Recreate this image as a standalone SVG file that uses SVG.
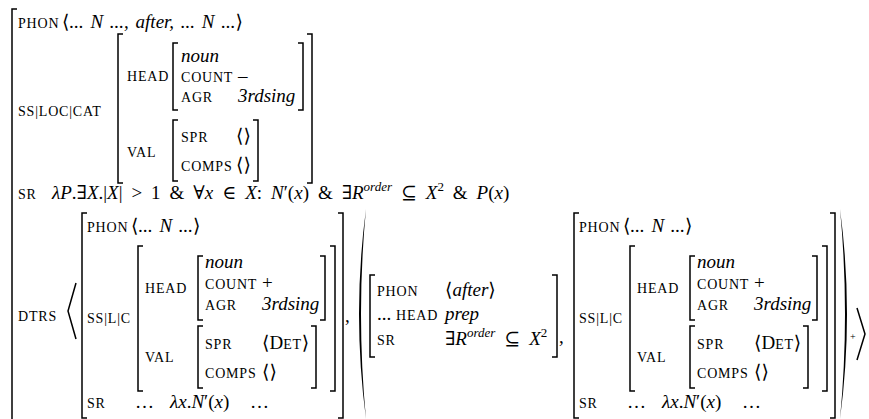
<svg xmlns="http://www.w3.org/2000/svg" width="869" height="419" viewBox="0 0 869 419">
<style>
.t{font-family:"Liberation Serif","DejaVu Serif",serif;font-size:19px;fill:#000}
.sc{font-size:14px;letter-spacing:0.8px}
.i{font-style:italic}
.sup{font-size:13px}
.ws{word-spacing:2px}
.m{word-spacing:4.2px}
.b{fill:none;stroke:#000;stroke-width:1.5}
.d{fill:#000;stroke:none}
</style>
<rect width="869" height="419" fill="#fff"/>
<g id="avm-outer">
<path class="b" d="M17,9 H12 V419"/>
</g>
<g id="top-phon">
<text class="t sc" x="18" y="28">PHON</text>
<text class="t ws" x="62" y="28">⟨<tspan class="i">... N ..., after, ... N ...</tspan>⟩</text>
</g>
<g id="top-cat">
<text class="t sc" x="18" y="116">SS|LOC|CAT</text>
<path class="b" d="M123,34 H118 V183 H123"/>
<path class="b" d="M307,34 H312 V183 H307"/>
<text class="t sc" x="127" y="81">HEAD</text>
<path class="b" d="M178,43 H173 V110 H178"/>
<path class="b" d="M298,43 H303 V110 H298"/>
<text class="t i" x="181" y="62">noun</text>
<text class="t sc" x="181" y="82">COUNT</text>
<text class="t" x="238" y="82">–</text>
<text class="t sc" x="181" y="102">AGR</text>
<text class="t i" x="238" y="102">3rdsing</text>
<text class="t sc" x="127" y="157">VAL</text>
<path class="b" d="M178,120 H173 V181 H178"/>
<path class="b" d="M253,120 H258 V181 H253"/>
<text class="t sc" x="181" y="142">SPR</text>
<text class="t" x="236" y="142">⟨⟩</text>
<text class="t sc" x="181" y="171">COMPS</text>
<text class="t" x="236" y="171">⟨⟩</text>
</g>
<g id="top-sr">
<text class="t sc" x="18" y="199">SR</text>
<text class="t m" x="52" y="199"><tspan class="i">λP</tspan>.∃<tspan class="i">X</tspan>.|<tspan class="i">X</tspan>| &gt; 1 &amp; ∀<tspan class="i">x</tspan> ∈ <tspan class="i">X</tspan>: <tspan class="i">N</tspan>′(<tspan class="i">x</tspan>) &amp; ∃<tspan class="i">R</tspan><tspan class="i sup" dy="-8">order</tspan><tspan dy="8"> ⊆ </tspan><tspan class="i">X</tspan><tspan class="sup" dy="-8">2</tspan><tspan dy="8"> &amp; </tspan><tspan class="i">P</tspan>(<tspan class="i">x</tspan>)</text>
</g>
<g id="dtrs">
<text class="t sc" x="18" y="321">DTRS</text>
<path class="b" d="M76,283 L68,311 L76,339"/>
</g>
<g id="dtr1">
<path class="b" d="M87,213 H82 V418 H87"/>
<path class="b" d="M338,213 H343 V418 H338"/>
<text class="t sc" x="87" y="232">PHON</text>
<text class="t ws" x="131" y="232">⟨<tspan class="i">... N ...</tspan>⟩</text>
<text class="t sc" x="87" y="323">SS|L|C</text>
<path class="b" d="M143,246 H138 V391 H143"/>
<path class="b" d="M330,246 H335 V391 H330"/>
<text class="t sc" x="145" y="293">HEAD</text>
<path class="b" d="M203,256 H198 V320 H203"/>
<path class="b" d="M320,256 H325 V320 H320"/>
<text class="t i" x="205" y="268">noun</text>
<text class="t sc" x="205" y="289">COUNT</text>
<text class="t" x="262" y="289">+</text>
<text class="t sc" x="205" y="310">AGR</text>
<text class="t i" x="262" y="310">3rdsing</text>
<text class="t sc" x="145" y="362">VAL</text>
<path class="b" d="M203,326 H198 V388 H203"/>
<path class="b" d="M311,326 H316 V388 H311"/>
<text class="t sc" x="205" y="349">SPR</text>
<text class="t" x="262" y="349">⟨D<tspan class="sc">ET</tspan>⟩</text>
<text class="t sc" x="205" y="378">COMPS</text>
<text class="t" x="262" y="378">⟨⟩</text>
<text class="t sc" x="87" y="408">SR</text>
<text class="t" x="135" y="408">…<tspan class="i" x="170">λx</tspan>.<tspan class="i">N</tspan>′(<tspan class="i">x</tspan>)<tspan x="250">…</tspan></text>
<text class="t" x="345" y="322">,</text>
</g>
<g id="dtr-mid">
<path class="d" d="M366,209 Q352,314 366,419 Q356,314 366,209Z"/>
<path class="b" d="M375,275 H370 V357 H375"/>
<path class="b" d="M552,275 H557 V357 H552"/>
<text class="t sc" x="377" y="296">PHON</text>
<text class="t" x="445" y="296">⟨<tspan class="i">after</tspan>⟩</text>
<text class="t" x="377" y="320">... <tspan class="sc">HEAD</tspan></text>
<text class="t i" x="445" y="320">prep</text>
<text class="t sc" x="377" y="345">SR</text>
<text class="t m" x="445" y="345">∃<tspan class="i">R</tspan><tspan class="i sup" dy="-8">order</tspan><tspan dy="8"> ⊆ </tspan><tspan class="i">X</tspan><tspan class="sup" dy="-8">2</tspan></text>
<text class="t" x="559" y="343">,</text>
</g>
<g id="dtr3">
<path class="b" d="M579,213 H574 V418 H579"/>
<path class="b" d="M830,213 H835 V418 H830"/>
<text class="t sc" x="579" y="232">PHON</text>
<text class="t ws" x="623" y="232">⟨<tspan class="i">... N ...</tspan>⟩</text>
<text class="t sc" x="579" y="323">SS|L|C</text>
<path class="b" d="M635,246 H630 V391 H635"/>
<path class="b" d="M822,246 H827 V391 H822"/>
<text class="t sc" x="637" y="293">HEAD</text>
<path class="b" d="M695,256 H690 V320 H695"/>
<path class="b" d="M812,256 H817 V320 H812"/>
<text class="t i" x="697" y="268">noun</text>
<text class="t sc" x="697" y="289">COUNT</text>
<text class="t" x="754" y="289">+</text>
<text class="t sc" x="697" y="310">AGR</text>
<text class="t i" x="754" y="310">3rdsing</text>
<text class="t sc" x="637" y="362">VAL</text>
<path class="b" d="M695,326 H690 V388 H695"/>
<path class="b" d="M803,326 H808 V388 H803"/>
<text class="t sc" x="697" y="349">SPR</text>
<text class="t" x="754" y="349">⟨D<tspan class="sc">ET</tspan>⟩</text>
<text class="t sc" x="697" y="378">COMPS</text>
<text class="t" x="754" y="378">⟨⟩</text>
<text class="t sc" x="579" y="408">SR</text>
<text class="t" x="627" y="408">…<tspan class="i" x="662">λx</tspan>.<tspan class="i">N</tspan>′(<tspan class="i">x</tspan>)<tspan x="742">…</tspan></text>
<path class="d" d="M840,209 Q854,314 840,419 Q850,314 840,209Z"/>
<text class="t" x="850" y="340" style="font-size:10px">+</text>
<path class="b" d="M857,308 L865,334 L857,360"/>
</g>
</svg>
